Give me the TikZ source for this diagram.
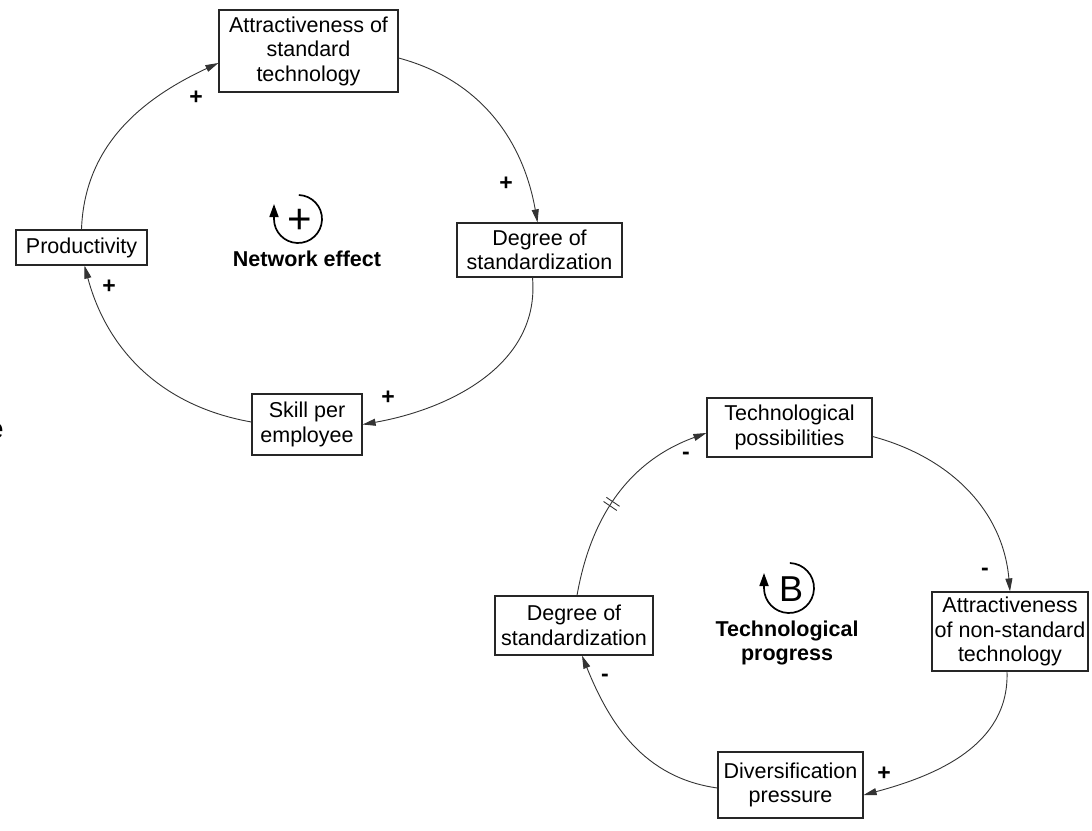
\documentclass[tikz,border=0pt]{standalone}
\usepackage{fontspec}
\setmainfont{Liberation Sans}
\usetikzlibrary{arrows.meta,decorations.markings}
\begin{document}
\begin{tikzpicture}[x=1pt,y=1pt,
  var/.style={draw=black!85, line width=1.2pt, fill=white, align=center,
    inner sep=2pt, font=\fontsize{21.5}{24.5}\selectfont},
  link/.style={draw=black!80, line width=0.9pt,
    -{Triangle[length=13pt,width=7pt]}},
  sign/.style={font=\fontsize{23}{24}\selectfont\bfseries},
  looptitle/.style={font=\fontsize{21.5}{24.5}\selectfont\bfseries, align=center},
  loopmark/.style={line width=1.7pt, -{Triangle[length=13pt,width=9pt]}},
  delay/.style={postaction={decorate}, decoration={markings,
    mark=at position #1 with {
      \draw[line width=0.9pt, -] (-2.5pt,-8pt) -- (-2.5pt,8pt);
      \draw[line width=0.9pt, -] (2.5pt,-8pt) -- (2.5pt,8pt);}}}]
\useasboundingbox (0,0) rectangle (1092,-830);

% reinforcing loop: network effect
\node[var, minimum width=179pt, minimum height=82pt] (attS) at (308.5,-51)
  {Attractiveness of\\standard\\technology};
\node[var, minimum width=131pt, minimum height=35pt] (prod) at (81.5,-247.5)
  {Productivity};
\node[var, minimum width=165pt, minimum height=54pt] (degA) at (539.5,-250)
  {Degree of\\standardization};
\node[var, minimum width=110pt, minimum height=61pt] (skill) at (307,-424.5)
  {Skill per\\employee};

\draw[link] (prod.north) to[out=88, in=205] ([yshift=-12pt]attS.west);
\draw[link] ([yshift=-7pt]attS.east) to[out=-15, in=100] ([xshift=-2pt]degA.north);
\draw[link] ([xshift=-7pt]degA.south) to[out=-85, in=10] (skill.east);
\draw[link] ([yshift=2.5pt]skill.west) to[out=170, in=-75] ([xshift=3pt]prod.south);

\node[sign] (s1) at (196,-98) {+};
\node[sign] (s2) at (506,-184) {+};
\node[sign] (s3) at (388,-398) {+};
\node[sign] (s4) at (109,-287) {+};

\draw[loopmark] (298,-219) ++(88:24) arc[start angle=88, end angle=-180, radius=24] -- ++(0,15);
\node[font=\fontsize{42}{44}\selectfont, inner sep=0pt] (rsym) at (300,-221) {+};
\node[looptitle] (rtitle) at (307,-259) {Network effect};

% balancing loop: technological progress
\node[var, minimum width=165pt, minimum height=59pt] (tech) at (789.5,-427.5)
  {Technological\\possibilities};
\node[var, minimum width=156pt, minimum height=79pt] (attN) at (1010,-631.5)
  {Attractiveness\\of non-standard\\technology};
\node[var, minimum width=145pt, minimum height=66pt] (div) at (790.5,-785)
  {Diversification\\pressure};
\node[var, minimum width=158pt, minimum height=59pt] (degB) at (574,-625.5)
  {Degree of\\standardization};

\draw[link, delay=0.45] ([xshift=3pt]degB.north) to[out=80, in=200] ([yshift=-5.5pt]tech.west);
\draw[link] ([yshift=-9pt]tech.east) to[out=-15, in=95] (attN.north);
\draw[link] ([xshift=-3pt]attN.south) to[out=-88, in=15] ([yshift=-10pt]div.east);
\draw[link] ([yshift=-3pt]div.west) to[out=172, in=-68] ([xshift=8pt]degB.south);

\node[sign] (b1) at (686,-456) {-};
\node[sign] (b2) at (985,-572) {-};
\node[sign] (b3) at (884,-774) {+};
\node[sign] (b4) at (605,-678) {-};

\draw[loopmark] (789,-588) ++(88:25) arc[start angle=88, end angle=-180, radius=25] -- ++(0,15);
\node[font=\fontsize{36}{38}\selectfont, inner sep=0pt] (bsym) at (791,-589) {B};
\node[looptitle] (btitle) at (787,-643) {Technological\\progress};

% clipped letter at the left edge
\node[font=\fontsize{28}{30}\selectfont, anchor=east, inner sep=0pt] (edge) at (4,-431) {e};
\end{tikzpicture}
\end{document}
